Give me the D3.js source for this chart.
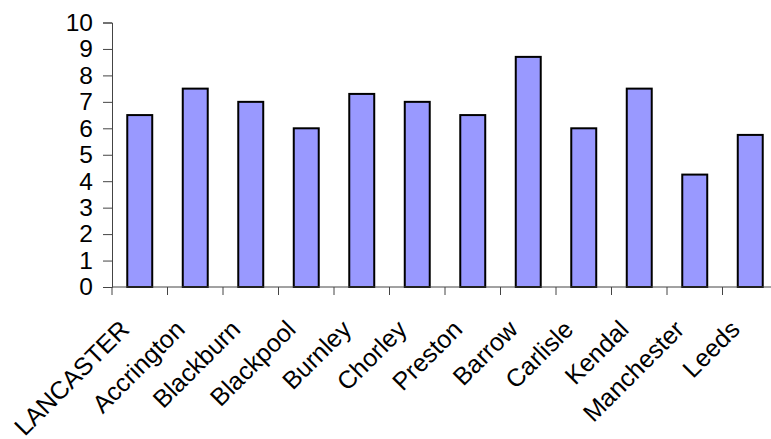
<!DOCTYPE html>
<html>
<head>
<meta charset="utf-8">
<script src="https://cdn.jsdelivr.net/npm/d3@7"></script>
<style>
  html, body { margin: 0; padding: 0; background: #fff; }
  svg { display: block; }
  text { font-family: "Liberation Sans", Arial, sans-serif; fill: #000; }
</style>
</head>
<body>
<svg id="chart" width="771" height="439"></svg>
<script>
// Towns and their scores
const towns = ["LANCASTER", "Accrington", "Blackburn", "Blackpool", "Burnley", "Chorley",
               "Preston", "Barrow", "Carlisle", "Kendal", "Manchester", "Leeds"];
const scores = [6.5, 7.5, 7.0, 6.0, 7.3, 7.0, 6.5, 8.7, 6.0, 7.5, 4.25, 5.75];
const yTicks = [0, 1, 2, 3, 4, 5, 6, 7, 8, 9, 10];

const svg = d3.select("#chart");
const plotLeft = 112, plotRight = 778, plotTop = 22.5, plotBottom = 287;

// Category slots (ticks sit on slot boundaries), bars centred in each slot
const slot = d3.scaleBand().domain(towns).range([plotLeft, plotRight]).padding(0);
const bar = d3.scaleBand().domain(towns).range([plotLeft, plotRight]).paddingInner(0.55).paddingOuter(0.275);
const y = d3.scaleLinear().domain([0, 10]).range([plotBottom, plotTop]);

// Bars
svg.append("g").selectAll("rect")
  .data(towns.map((t, i) => ({ t, v: scores[i] })))
  .join("rect")
  .attr("x", d => bar(d.t))
  .attr("y", d => y(d.v))
  .attr("width", bar.bandwidth())
  .attr("height", d => y(0) - y(d.v))
  .attr("fill", "#9999ff")
  .attr("stroke", "#000")
  .attr("stroke-width", 2);

// Y axis
const yAxis = d3.axisLeft(y).tickValues(yTicks).tickFormat(d3.format("d")).tickSize(9).tickPadding(10);
const gy = svg.append("g").attr("transform", `translate(${plotLeft},0)`).call(yAxis);
gy.select(".domain").attr("stroke", "#444");
gy.selectAll(".tick line").attr("stroke", "#444");
gy.selectAll(".tick text").attr("font-size", 24.5).style("font-family", "'Liberation Sans', Arial, sans-serif");

// X axis line and boundary ticks
const gx = svg.append("g");
gx.append("line")
  .attr("x1", plotLeft).attr("x2", plotRight)
  .attr("y1", plotBottom).attr("y2", plotBottom)
  .attr("stroke", "#444");
const bounds = towns.map(t => slot(t)).concat([plotRight]);
gx.selectAll("line.tk").data(bounds).join("line")
  .attr("class", "tk")
  .attr("x1", d => d).attr("x2", d => d)
  .attr("y1", plotBottom).attr("y2", plotBottom + 8)
  .attr("stroke", "#444");

// Rotated category labels
gx.selectAll("text").data(towns).join("text")
  .attr("transform", t => `translate(${slot(t) + slot.bandwidth() / 2 - 9},${plotBottom + 44}) rotate(-45)`)
  .attr("text-anchor", "end")
  .attr("font-size", 25)
  .text(t => t);
</script>
</body>
</html>
